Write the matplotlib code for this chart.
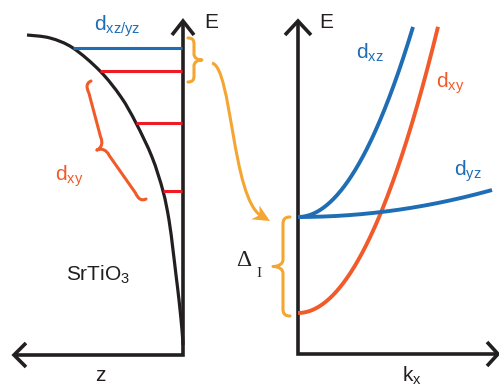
import numpy as np
import matplotlib.pyplot as plt
import matplotlib.patches as mpatches
from matplotlib.path import Path

plt.rcParams['font.family'] = ['Liberation Sans', 'DejaVu Sans']

BLACK = '#231f20'
BLUE = '#1f6db5'
RED = '#ed1c24'
ORANGE = '#f15a29'
GOLD = '#f5a531'

# --- left panel: band-bending well (pixel coords, y grows downward) ---
well_x = [27, 50, 73, 100, 121, 136, 152, 163, 169, 173, 176, 179, 182, 183]
well_y = [35, 38, 48, 71, 97, 123, 157, 191, 220, 250, 275, 300, 330, 345]

# subband levels: energy (y), left end on the well, colour
level_y = [48, 71, 123, 191]
level_x0 = [73, 100, 136, 163]
level_col = [BLUE, RED, RED, RED]

# --- right panel: parabolic bands  E = E0 - c * k^2 ---
k0 = 298
band_names = ['xz', 'xy', 'yz']
band_E0 = [217, 313, 217]
band_c = [0.01437, 0.0146, 0.000717]
band_kmax = [413, 438, 492]
band_col = [BLUE, ORANGE, BLUE]


def smooth_path(xs, ys):
    # Catmull-Rom through the points, written as cubic Bezier segments
    p = np.column_stack([xs, ys]).astype(float)
    verts = [p[0]]
    codes = [Path.MOVETO]
    for i in range(len(p) - 1):
        a = p[i - 1] if i > 0 else p[i]
        b, c = p[i], p[i + 1]
        d = p[i + 2] if i + 2 < len(p) else p[i + 1]
        verts += [b + (c - a) / 6, c - (d - b) / 6, c]
        codes += [Path.CURVE4] * 3
    return Path(verts, codes)


def brace(ax, p0, p1, arm_end, arm_mid, tip, r, side, color, lw=2.2):
    p0 = np.array(p0, float)
    p1 = np.array(p1, float)
    L = np.hypot(*(p1 - p0))
    u = (p1 - p0) / L
    n = side * np.array([-u[1], u[0]])
    h = L / 2
    d = tip - arm_mid
    local = [(0, 0), (0, 0.8 * arm_end), (0.4 * r, arm_end), (r, arm_end),
             (h - r, arm_mid),
             (h - 0.4 * r, arm_mid), (h, arm_mid + 0.4 * d), (h, tip),
             (h, arm_mid + 0.4 * d), (h + 0.4 * r, arm_mid), (h + r, arm_mid),
             (L - r, arm_end),
             (L - 0.4 * r, arm_end), (L, 0.8 * arm_end), (L, 0)]
    codes = [Path.MOVETO] + [Path.CURVE4] * 3 + [Path.LINETO] + [Path.CURVE4] * 6 + \
        [Path.LINETO] + [Path.CURVE4] * 3
    verts = [p0 + a * u + b * n for a, b in local]
    ax.add_patch(mpatches.PathPatch(Path(verts, codes), fill=False, edgecolor=color,
                                    lw=lw, capstyle='round', joinstyle='round'))


fig = plt.figure(figsize=(4.99, 3.90), dpi=100)
ax = fig.add_axes([0, 0, 1, 1])
ax.set_xlim(0, 499)
ax.set_ylim(390, 0)
ax.axis('off')

# axes with chevron arrowheads
axkw = dict(color=BLACK, lw=2.6, solid_joinstyle='miter', solid_capstyle='butt')
ax.plot([14, 183, 183], [355, 355, 21], **axkw)
ax.plot([172, 183, 194], [35, 21, 35], **axkw)
ax.plot([26, 14, 26], [343, 355, 367], **axkw)
ax.plot([298, 298, 498], [21, 354, 354], **axkw)
ax.plot([285, 298, 311], [35, 21, 35], **axkw)
ax.plot([487, 498, 487], [342, 354, 366], **axkw)

# well and levels
ax.add_patch(mpatches.PathPatch(smooth_path(well_x, well_y), fill=False,
                                edgecolor=BLACK, lw=2.3, capstyle='butt'))
for y, x0, c in zip(level_y, level_x0, level_col):
    ax.plot([x0, 182], [y, y], color=c, lw=2.2, solid_capstyle='butt')

# bands
for E0, c, kmax, col in zip(band_E0, band_c, band_kmax, band_col):
    k = np.linspace(k0, kmax, 200)
    ax.plot(k, E0 - c * (k - k0) ** 2, color=col, lw=2.8, solid_capstyle='butt')

# braces
brace(ax, (188, 38), (188, 82), 6, 6, 14, 6, -1, GOLD)
brace(ax, (290, 217), (290, 316), 7, 7, 17, 7, 1, GOLD)
brace(ax, (91, 81), (146, 199), 7, 15, 24, 10, 1, ORANGE)

# curved arrow: bezier shaft plus a swept-back head
tip = np.array([270.0, 221.0])
direc = np.array([36.0, 21.0])
direc /= np.hypot(*direc)
nrm = np.array([-direc[1], direc[0]])
head_len, head_w = 17, 8
back = tip - direc * head_len
shaft_end = tip - direc * (head_len * 0.6)
arrow_path = Path([(212, 63), (232, 68), (232, 198), tuple(shaft_end)],
                  [Path.MOVETO, Path.CURVE4, Path.CURVE4, Path.CURVE4])
ax.add_patch(mpatches.PathPatch(arrow_path, fill=False, edgecolor=GOLD, lw=2.2,
                                capstyle='butt'))
ax.add_patch(mpatches.Polygon([tip, back + nrm * head_w, tip - direc * head_len * 0.7,
                               back - nrm * head_w], closed=True, facecolor=GOLD,
                              edgecolor='none'))

# labels
fs = 15
ax.text(204, 28, 'E', fontsize=fs, color=BLACK, va='baseline')
ax.text(319, 28, 'E', fontsize=fs, color=BLACK, va='baseline')
ax.text(100, 381, 'z', fontsize=fs, color=BLACK, ha='center', va='baseline')
ax.text(402, 381, r'k$_{\mathregular{x}}$', fontsize=fs, color=BLACK, va='baseline')
ax.text(66, 280, r'SrTiO$_{\mathregular{3}}$', fontsize=fs, color=BLACK, va='baseline')
ax.text(94, 30, r'd$_{\mathregular{xz/yz}}$', fontsize=fs, color=BLUE, va='baseline')
ax.text(55, 180, r'd$_{\mathregular{xy}}$', fontsize=fs, color=ORANGE, va='baseline')
ax.text(356, 58, r'd$_{\mathregular{xz}}$', fontsize=fs, color=BLUE, va='baseline')
ax.text(436, 87, r'd$_{\mathregular{xy}}$', fontsize=fs, color=ORANGE, va='baseline')
ax.text(454, 175, r'd$_{\mathregular{yz}}$', fontsize=fs, color=BLUE, va='baseline')
ax.text(236, 266, '\u0394', fontsize=17, color=BLACK, family='Liberation Serif', va='baseline')
ax.text(256, 277, 'I', fontsize=11, color=BLACK, family='Liberation Serif', va='baseline')

fig.savefig('out.png', dpi=100)
